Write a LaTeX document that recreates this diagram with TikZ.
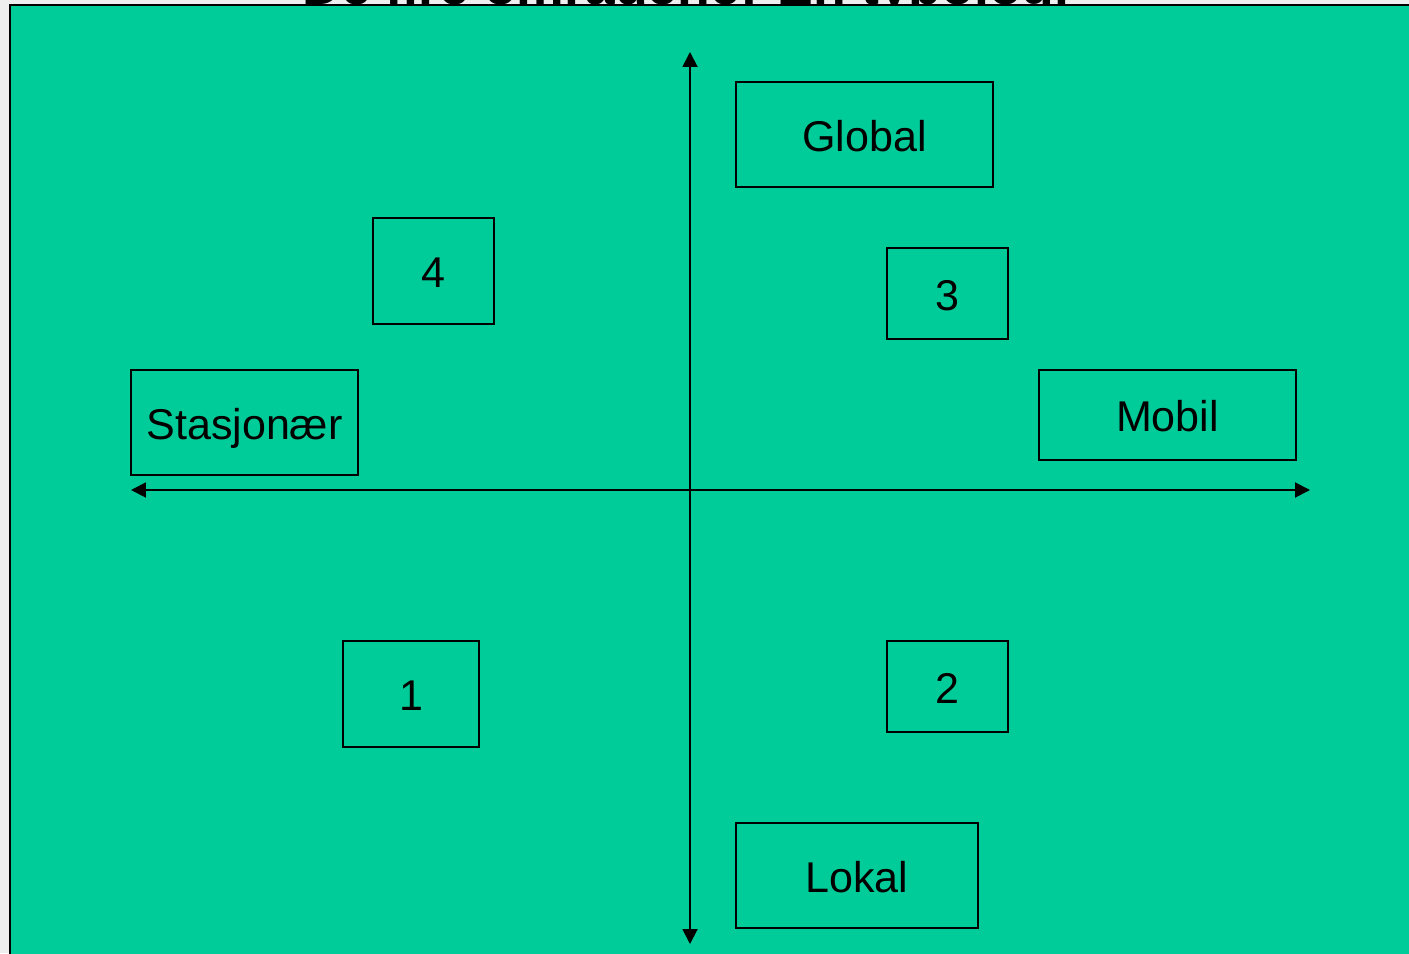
\documentclass[tikz,border=0pt]{standalone}
\usepackage{fontspec}
\setmainfont{Liberation Sans}
\usetikzlibrary{arrows.meta}
\definecolor{feltgronn}{HTML}{00CC99}
\definecolor{bakgrunn}{HTML}{EEEEEE}
\begin{document}
\begin{tikzpicture}[x=0.02cm,y=-0.02cm,
    boks/.style={draw,line width=1.1pt,inner sep=0pt,text height=24pt,text depth=4.7pt,font=\fontsize{24.5}{30}\selectfont},
    akse/.style={line width=1.1pt,{Triangle[length=3mm,width=3mm]}-{Triangle[length=3mm,width=3mm]}}]
        \useasboundingbox (0,0) rectangle (1409,953);
        \clip (0,0) rectangle (1409,953);
        \fill[bakgrunn] (0,0) rectangle (1409,953);
        \node[anchor=base,font=\fontsize{30.5}{36}\selectfont\bfseries] (tittel) at (686,5) {De fire områdene: En typologi};
        \draw[fill=feltgronn,line width=1.4pt] (10,5) rectangle (1430,980);
        % aksene
        \coordinate (vest) at (131,490);
        \coordinate (ost) at (1310,490);
        \coordinate (nord) at (690,52);
        \coordinate (sor) at (690,944);
        \draw[akse] (vest) -- (ost);
        \draw[akse] (nord) -- (sor);
        % boksene
        \node[boks,minimum width=5.14cm,minimum height=2.10cm] (global) at (864.5,134.5) {Global};
        \node[boks,minimum width=2.42cm,minimum height=2.12cm] (fire) at (433.5,271) {4};
        \node[boks,minimum width=2.42cm,minimum height=1.82cm] (tre) at (947.5,293.5) {3};
        \node[boks,minimum width=4.54cm,minimum height=2.10cm] (stasjonaer) at (244.5,422.5) {Stasjonær};
        \node[boks,minimum width=5.14cm,minimum height=1.80cm] (mobil) at (1167.5,415) {Mobil};
        \node[boks,minimum width=2.72cm,minimum height=2.12cm] (en) at (411,694) {1};
        \node[boks,minimum width=2.42cm,minimum height=1.82cm] (to) at (947.5,686.5) {2};
        \node[boks,minimum width=4.84cm,minimum height=2.10cm] (lokal) at (857,875.5) {Lokal};
    \end{tikzpicture}
\end{document}
